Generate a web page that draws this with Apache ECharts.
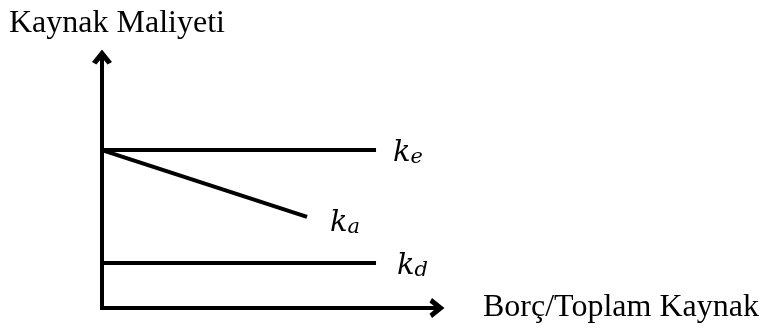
<!DOCTYPE html>
<html>
<head>
<meta charset="utf-8">
<script src="https://cdn.jsdelivr.net/npm/echarts@6/dist/echarts.min.js"></script>
<style>
  html, body { margin: 0; padding: 0; background: #fff; }
  #chart { width: 775px; height: 331px; }
</style>
</head>
<body>
<div id="chart"></div>
<script>
  // borç oranı ekseni (0-100), maliyet ekseni (0-100)
  const xRange = [0, 100];
  const yRange = [0, 100];
  // k_e: özkaynak maliyeti, k_a: ortalama maliyet, k_d: borç maliyeti
  const keLine = [[0, 62.9], [81.8, 62.9]];
  const kaLine = [[0, 62.9], [61.2, 36.3]];
  const kdLine = [[0, 17.9], [81.8, 17.9]];
  const seriesNames = ['e', 'a', 'd'];

  const serif = '"Liberation Serif", "DejaVu Serif", serif';
  const mathFont = '"DejaVu Serif", serif';
  // kalın ok ucu
  const arrow = 'path://M0,10 L8,0 L16,10 L12.5,12 L8,6.5 L3.5,12 Z';

  const richK = {
    k: { fontFamily: mathFont, fontStyle: 'italic', fontSize: 29, lineHeight: 30, color: '#000', verticalAlign: 'bottom' },
    s: { fontFamily: mathFont, fontStyle: 'italic', fontSize: 21, lineHeight: 1, color: '#000', verticalAlign: 'bottom' }
  };

  function makeLine(data, sub, offset) {
    return {
      type: 'line',
      data: data,
      showSymbol: false,
      symbol: 'none',
      animation: false,
      lineStyle: { color: '#000', width: 4 },
      endLabel: {
        show: true,
        distance: 0,
        offset: offset,
        formatter: '{k|k}{s|' + sub + '}',
        rich: richK
      }
    };
  }

  const chart = echarts.init(document.getElementById('chart'));
  chart.setOption({
    animation: false,
    title: {
      text: 'Kaynak Maliyeti',
      left: 4,
      top: 3,
      textStyle: { fontFamily: serif, fontWeight: 'normal', fontSize: 32, color: '#000' }
    },
    grid: { left: 102, right: 338, top: 57, bottom: 23 },
    xAxis: {
      type: 'value',
      min: xRange[0],
      max: xRange[1],
      name: 'Borç/Toplam Kaynak',
      nameLocation: 'end',
      nameGap: 46,
      nameTextStyle: { fontFamily: serif, fontSize: 32, color: '#000', verticalAlign: 'middle', padding: [0, 0, 10, 0] },
      axisLine: { show: true, symbol: ['none', arrow], symbolSize: [20, 15], lineStyle: { color: '#000', width: 4, cap: 'square' } },
      axisTick: { show: false },
      axisLabel: { show: false },
      splitLine: { show: false }
    },
    yAxis: {
      type: 'value',
      min: yRange[0],
      max: yRange[1],
      axisLine: { show: true, symbol: ['none', arrow], symbolSize: [20, 15], lineStyle: { color: '#000', width: 4, cap: 'square' } },
      axisTick: { show: false },
      axisLabel: { show: false },
      splitLine: { show: false }
    },
    series: [
      makeLine(keLine, seriesNames[0], [17, 3]),
      makeLine(kaLine, seriesNames[1], [23, 6]),
      makeLine(kdLine, seriesNames[2], [21, 3])
    ]
  });
</script>
</body>
</html>
